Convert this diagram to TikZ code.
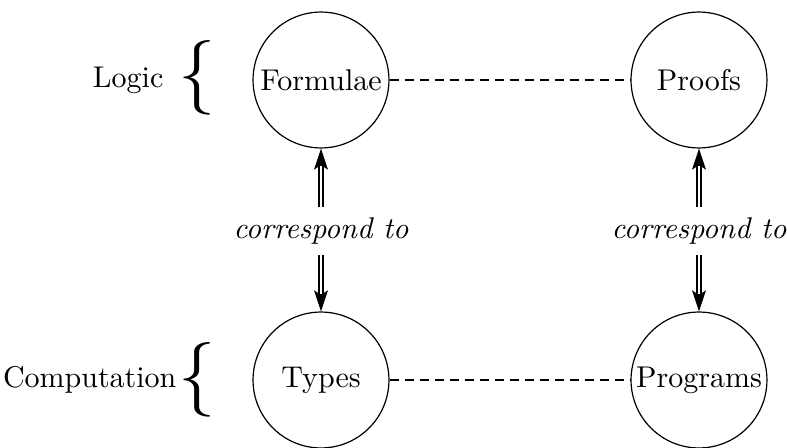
\documentclass[tikz,border=0pt]{standalone}
\usetikzlibrary{arrows.meta}
\tikzset{
  concept/.style={draw, circle, line width=0.4pt, minimum size=45.3pt, inner sep=0pt},
  pairing/.style={semithick, densely dashed},
  % filled arrow head on a single stroke, then the double shaft on top of it
  corresp/.style={
    postaction={draw, line width=0.5pt,
      -{Stealth[length=7pt, width=4.6pt, inset=1.5pt]}},
    postaction={draw, double, double distance=0.8pt, line width=0.5pt,
      shorten >=5.8pt}},
  sidelabel/.style={inner sep=0pt, anchor=east},
  bracket/.style={inner sep=0pt}
}
\begin{document}
\begin{tikzpicture}[x=0.3333pt, y=-0.3333pt]
  \useasboundingbox (0,0) rectangle (787,448);

  % the four concepts
  \node[concept] (formulae) at (321,80)  {Formulae};
  \node[concept] (proofs)   at (699,80)  {Proofs};
  \node[concept] (types)    at (321,380) {Types};
  \node[concept] (programs) at (699,380) {Programs};

  % correspondence labels between the rows
  \node (corrL) at (321,231) {\textit{correspond to}};
  \node (corrR) at (699,231) {\textit{correspond to}};

  % horizontal pairings
  \draw[pairing] (formulae) -- (proofs);
  \draw[pairing] (types) -- (programs);

  % vertical correspondences
  \path[corresp] (corrL) -- (formulae);
  \path[corresp] (corrL) -- (types);
  \path[corresp] (corrR) -- (proofs);
  \path[corresp] (corrR) -- (programs);

  % row captions with braces
  \node[sidelabel] (logic) at (164,80) {Logic};
  \node[bracket] (logicbrace) at (197,78) {\Huge$\{$};
  \node[sidelabel] (computation) at (177,380) {Computation};
  \node[bracket] (compbrace) at (197,380) {\Huge$\{$};
\end{tikzpicture}
\end{document}
